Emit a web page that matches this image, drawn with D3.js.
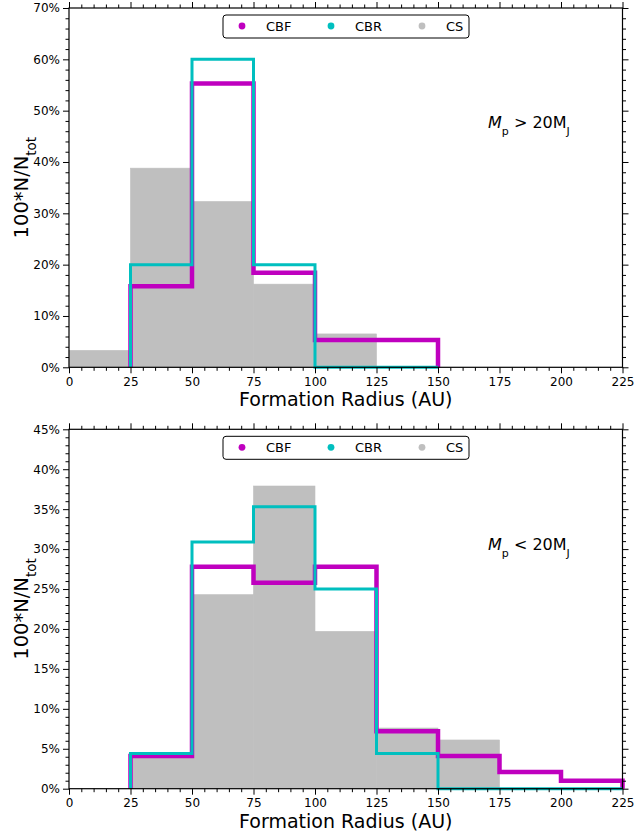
<!DOCTYPE html>
<html>
<head>
<meta charset="utf-8">
<script src="https://cdn.jsdelivr.net/npm/d3@7"></script>
<style>
  body { margin: 0; background: #fff; }
  text { font-family: "DejaVu Sans", sans-serif; fill: #000; }
</style>
</head>
<body>
<div id="chart"></div>
<script>
// ---- data (percent of total per 25 AU bin) ----
const binWidth = 25;
const xTickValues = [0, 25, 50, 75, 100, 125, 150, 175, 200, 225];
const seriesNames = ["CBF", "CBR", "CS"];

// top panel : Mp > 20 MJ
const topStartsCS = [0, 25, 50, 75, 100];
const topCS = [3.3, 38.8, 32.3, 16.2, 6.5];
const topStartsCB = [25, 50, 75, 100, 125];
const topCBF = [15.8, 55.3, 18.4, 5.3, 5.3];
const topCBR = [20, 60, 20, 0, 0];
const topYTicks = [0, 10, 20, 30, 40, 50, 60, 70];

// bottom panel : Mp < 20 MJ
const botStartsCS = [25, 50, 75, 100, 125, 150];
const botCS = [4.4, 24.3, 37.9, 19.7, 7.6, 6.1];
const botStartsCB = [25, 50, 75, 100, 125, 150, 175, 200];
const botCBF = [4.1, 27.8, 25.8, 27.8, 7.2, 4.1, 2.1, 1.0];
const botCBR = [4.4, 30.9, 35.3, 25.0, 4.4, 0, 0, 0];
const botYTicks = [0, 5, 10, 15, 20, 25, 30, 35, 40, 45];

const colors = {CBF: "#bf00bf", CBR: "#00bfbf", CS: "#bfbfbf"};

const W = 635, H = 837;
const left = 69, right = 622.5;

const svg = d3.select("#chart").append("svg")
  .attr("width", W).attr("height", H);

function stepPoints(starts, vals) {
  let pts = [[starts[0], 0]];
  vals.forEach((v, i) => {
    pts.push([starts[i], v]);
    pts.push([starts[i] + binWidth, v]);
  });
  pts.push([starts[starts.length - 1] + binWidth, 0]);
  return pts;
}

function drawPanel(p) {
  const x = d3.scaleLinear().domain([0, 225]).range([left, right]);
  const y = d3.scaleLinear().domain([0, p.yMax]).range([p.y1, p.y0]);
  const g = svg.append("g");

  // CS filled bars
  const cs = p.csStarts.map((s, i) => ({s: s, v: p.cs[i]}));
  g.selectAll("rect.cs").data(cs).join("rect")
    .attr("class", "cs")
    .attr("x", d => x(d.s))
    .attr("width", x(binWidth) - x(0))
    .attr("y", d => y(d.v))
    .attr("height", d => y(0) - y(d.v))
    .attr("fill", colors.CS)
    .attr("stroke", colors.CS).attr("stroke-width", 0.6);

  const line = d3.line().x(d => x(d[0])).y(d => y(d[1]));
  g.append("path")
    .attr("d", line(stepPoints(p.cbStarts, p.cbf)))
    .attr("fill", "none").attr("stroke", colors.CBF)
    .attr("stroke-width", 4.5).attr("stroke-linejoin", "miter");
  g.append("path")
    .attr("d", line(stepPoints(p.cbStarts, p.cbr)))
    .attr("fill", "none").attr("stroke", colors.CBR)
    .attr("stroke-width", 3).attr("stroke-linejoin", "miter");

  // axes, ticks outward on all sides
  const xMinor = d3.range(0, 226, 5).filter(v => v % 25 !== 0);
  const yMinor = d3.range(0, p.yMax + 0.001, p.minor).filter(v => Math.abs(v / p.major - Math.round(v / p.major)) > 1e-6);

  const ax = [];
  ax.push(g.append("g").attr("transform", `translate(0,${p.y1})`)
    .call(d3.axisBottom(x).tickValues(xTickValues).tickSize(6).tickPadding(4).tickFormat(d3.format("d"))));
  ax.push(g.append("g").attr("transform", `translate(0,${p.y1})`)
    .call(d3.axisBottom(x).tickValues(xMinor).tickSize(3.5).tickFormat("")));
  ax.push(g.append("g").attr("transform", `translate(0,${p.y0})`)
    .call(d3.axisTop(x).tickValues(xTickValues).tickSize(6).tickFormat("")));
  ax.push(g.append("g").attr("transform", `translate(0,${p.y0})`)
    .call(d3.axisTop(x).tickValues(xMinor).tickSize(3.5).tickFormat("")));
  ax.push(g.append("g").attr("transform", `translate(${left},0)`)
    .call(d3.axisLeft(y).tickValues(p.yTicks).tickSize(6).tickPadding(3).tickFormat(d => d + "%")));
  ax.push(g.append("g").attr("transform", `translate(${left},0)`)
    .call(d3.axisLeft(y).tickValues(yMinor).tickSize(3.5).tickFormat("")));
  ax.push(g.append("g").attr("transform", `translate(${right},0)`)
    .call(d3.axisRight(y).tickValues(p.yTicks).tickSize(6).tickFormat("")));
  ax.push(g.append("g").attr("transform", `translate(${right},0)`)
    .call(d3.axisRight(y).tickValues(yMinor).tickSize(3.5).tickFormat("")));
  ax.forEach(a => {
    a.select(".domain").remove();
    a.selectAll("line").attr("stroke", "#000").attr("stroke-width", 1);
    a.selectAll("text").style("font-family", "DejaVu Sans").style("font-size", "12px").attr("fill", "#000");
  });

  // frame
  g.append("rect")
    .attr("x", left).attr("y", p.y0)
    .attr("width", right - left).attr("height", p.y1 - p.y0)
    .attr("fill", "none").attr("stroke", "#000").attr("stroke-width", 1.2);

  // axis labels
  g.append("text")
    .attr("x", (left + right) / 2).attr("y", p.y1 + 39)
    .attr("text-anchor", "middle").style("font-size", "19px")
    .text("Formation Radius (AU)");

  const yl = g.append("text")
    .attr("transform", `translate(28,${(p.y0 + p.y1) / 2}) rotate(-90)`)
    .attr("text-anchor", "middle").style("font-size", "19.5px");
  yl.append("tspan").text("100*N/N");
  yl.append("tspan").attr("baseline-shift", "sub").style("font-size", "13.5px").text("tot");

  // annotation
  const an = g.append("text").attr("x", 488).attr("y", p.y0 + p.annoY).style("font-size", "16px");
  an.append("tspan").style("font-style", "italic").text("M");
  an.append("tspan").attr("baseline-shift", "sub").style("font-size", "11px").text("p");
  an.append("tspan").text(" " + p.anno + " 20M");
  an.append("tspan").attr("baseline-shift", "sub").style("font-size", "11px").text("J");

  // legend
  const lg = g.append("g").attr("transform", `translate(223,${p.y0 + 7})`);
  lg.append("rect").attr("width", 246).attr("height", 23).attr("rx", 3)
    .attr("fill", "#fff").attr("stroke", "#000").attr("stroke-width", 1);
  const lx = [19, 108, 199];
  seriesNames.forEach((n, i) => {
    lg.append("circle").attr("cx", lx[i]).attr("cy", 11).attr("r", 3.4).attr("fill", colors[n]);
    lg.append("text").attr("x", lx[i] + 24).attr("y", 15.5).style("font-size", "13px").text(n);
  });
}

drawPanel({y0: 8, y1: 367.3, yMax: 70, major: 10, minor: 2, yTicks: topYTicks,
  csStarts: topStartsCS, cs: topCS, cbStarts: topStartsCB, cbf: topCBF, cbr: topCBR,
  anno: ">", annoY: 120});
drawPanel({y0: 429.3, y1: 788.7, yMax: 45, major: 5, minor: 1, yTicks: botYTicks,
  csStarts: botStartsCS, cs: botCS, cbStarts: botStartsCB, cbf: botCBF, cbr: botCBR,
  anno: "<", annoY: 121});
</script>
</body>
</html>
